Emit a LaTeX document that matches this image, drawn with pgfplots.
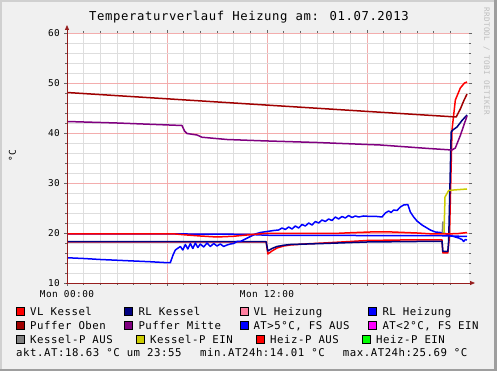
\documentclass[border=0pt]{standalone}
\usepackage{fontspec}
\setmainfont{DejaVu Sans Mono}[LetterSpace=5]
\usepackage{pgfplots}
\pgfplotsset{compat=1.18}
\usetikzlibrary{arrows.meta}
\definecolor{bgc}{RGB}{240,240,240}
\definecolor{bordlight}{RGB}{208,208,208}
\definecolor{borddark}{RGB}{158,158,158}
\definecolor{majgrid}{RGB}{243,173,173}
\definecolor{mingrid}{RGB}{222,222,222}
\definecolor{axiscol}{RGB}{150,30,30}
\definecolor{cVLK}{RGB}{255,0,0}
\definecolor{cRLK}{RGB}{0,0,128}
\definecolor{cVLH}{RGB}{255,128,160}
\definecolor{cRLH}{RGB}{0,0,255}
\definecolor{cPO}{RGB}{160,0,0}
\definecolor{cPM}{RGB}{128,0,128}
\definecolor{cAT}{RGB}{0,0,255}
\definecolor{cATn}{RGB}{255,0,255}
\definecolor{cKA}{RGB}{128,128,128}
\definecolor{cKE}{RGB}{204,204,0}
\definecolor{cHA}{RGB}{255,0,0}
\definecolor{cHE}{RGB}{0,255,0}
\definecolor{rrdtxt}{RGB}{190,190,190}
\begin{document}
\begin{tikzpicture}[x=1pt,y=1pt]
\useasboundingbox (0,0) rectangle (497,371);
\fill[bgc] (0,0) rectangle (497,371);
\fill[bordlight] (0,0) rectangle (2,371);
\fill[bordlight] (0,369) rectangle (497,371);
\fill[borddark] (494,0) rectangle (497,371);
\fill[borddark] (0,0) rectangle (497,2);
\begin{axis}[
  at={(67pt,88pt)}, anchor=south west,
  scale only axis, width=402pt, height=250pt,
  xmin=0, xmax=24.12, ymin=10, ymax=60,
  axis background/.style={fill=white},
  axis line style={draw=none},
  xtick={0,6,12,18}, minor xtick={1,2,3,4,5,7,8,9,10,11,13,14,15,16,17,19,20,21,22,23},
  xticklabels={Mon 00:00,,Mon 12:00,},
  ytick={10,20,30,40,50,60}, minor ytick={12,14,16,18,22,24,26,28,32,34,36,38,42,44,46,48,52,54,56,58},
  grid=both,
  major grid style={color=majgrid, line width=0.6pt},
  minor grid style={color=mingrid, line width=0.6pt},
  tick align=outside, major tick length=3pt, minor tick length=2pt,
  every tick/.style={color=gray!80!black, line width=0.5pt},
  tick label style={font=\fontsize{9.4}{11}\selectfont},
  /pgf/number format/assume math mode=true,
  yticklabel style={inner sep=0pt, xshift=-4pt},
  xticklabel style={inner sep=0pt, yshift=-4pt},
  clip=false,
  every axis plot/.append style={line width=1.5pt, line join=round},
]
% VL Kessel
\addplot[cVLK] coordinates {(0,18.2) (11.95,18.2) (12.05,15.8) (12.3,16.4) (12.6,17.0) (13.0,17.4) (13.4,17.6) (14.5,17.85) (15.4,18.0) (17,18.3) (18,18.5) (20,18.6) (22.5,18.6) (22.55,16.0) (22.85,16.0) (22.95,19.5) (23.1,40.6) (23.3,46.6) (23.6,49.0) (23.85,50.0) (24,50.2)};
% RL Kessel
\addplot[cRLK] coordinates {(0,18.25) (11.95,18.25) (12.05,16.4) (12.3,16.9) (12.6,17.3) (13.0,17.55) (13.4,17.7) (15.4,17.9) (18,18.2) (22.5,18.35) (22.55,16.3) (22.85,16.3) (22.9,18.5) (22.98,30) (23.05,40.2) (23.15,40.6) (23.4,41.2) (23.7,42.5) (24,43.6)};
% RL Heizung
\addplot[cRLH] coordinates {(0,19.8) (6.8,19.8) (7.2,19.8) (10,19.75) (11,19.7) (12,19.55) (22.5,19.45) (23,19.4) (24,19.3)};
% AT
\addplot[cAT] coordinates {(0,15.05) (1,14.9) (2,14.7) (3,14.55) (4,14.4) (5,14.25) (5.8,14.1) (6.2,14.05) (6.35,15.5) (6.5,16.6) (6.8,17.3) (6.95,16.6) (7.1,17.7) (7.25,16.8) (7.4,17.9) (7.55,16.9) (7.7,18.0) (7.85,17.1) (8.0,17.8) (8.2,17.2) (8.4,18.0) (8.6,17.3) (8.8,17.9) (9.0,17.4) (9.2,17.8) (9.4,17.3) (9.6,17.6) (9.8,17.8) (10.0,17.9) (10.2,18.3) (10.4,18.3) (10.7,18.8) (11.0,19.3) (11.3,19.8) (11.6,20.1) (12.0,20.3) (12.4,20.5) (12.7,20.6) (12.9,21.0) (13.1,20.7) (13.3,21.2) (13.5,20.8) (13.7,21.4) (13.9,21.0) (14.1,21.7) (14.3,21.4) (14.5,22.0) (14.7,21.6) (14.9,22.3) (15.1,22.0) (15.3,22.6) (15.5,22.3) (15.7,22.8) (15.9,22.5) (16.1,23.2) (16.3,22.8) (16.5,23.3) (16.7,23.0) (16.9,23.5) (17.1,23.1) (17.3,23.4) (17.5,23.2) (17.8,23.4) (18.2,23.3) (18.6,23.3) (18.9,23.2) (19.1,24.0) (19.3,24.4) (19.45,24.1) (19.6,24.6) (19.8,24.5) (20.0,25.2) (20.2,25.6) (20.45,25.69) (20.6,24.2) (20.8,23.2) (21.0,22.4) (21.3,21.6) (21.6,21.0) (21.8,20.6) (22.1,20.2) (22.4,20.1) (22.7,19.9) (23.0,19.5) (23.2,19.3) (23.5,19.0) (23.7,18.7) (23.8,18.3) (23.9,18.7) (24.0,18.6)};
% VL Heizung line (red)
\addplot[cHA] coordinates {(0,19.8) (6.5,19.8) (7.2,19.6) (8,19.4) (9,19.2) (10,19.35) (10.8,19.6) (12,19.95) (14,19.9) (16,19.9) (17,20.05) (18.2,20.2) (19.5,20.2) (21,20.0) (22,19.8) (22.8,19.8) (23.5,19.9) (24,20.1)};
% Puffer Oben
\addplot[cPO] coordinates {(0,48.1) (5,47.05) (10,46.0) (15,44.95) (20,43.9) (23.35,43.2) (23.6,44.8) (23.8,46.4) (24,47.8)};
% Puffer Mitte
\addplot[cPM] coordinates {(0,42.3) (3,42.0) (6.9,41.5) (7.05,40.4) (7.2,39.9) (7.8,39.6) (8.1,39.15) (9.6,38.7) (11.6,38.45) (15,38.1) (18.8,37.6) (21.7,36.9) (23.1,36.6) (23.3,37.0) (23.6,39.5) (24,43.4)};
% Kessel-P AUS
\addplot[cKA] coordinates {(22.52,20.0) (22.55,22.2) (22.58,22.2)};
% Kessel-P EIN
\addplot[cKE] coordinates {(22.62,20.0) (22.68,27.2) (22.9,28.5) (23.2,28.6) (24,28.8)};
\end{axis}
% axis lines
\draw[axiscol, line width=0.8pt, -{Triangle[length=5pt,width=4pt]}] (66,88) -- (475,88);
\draw[axiscol, line width=0.8pt, -{Triangle[length=5pt,width=4pt]}] (67,87) -- (67,346);
% title
\node[anchor=base, inner sep=0pt, font=\fontsize{12.25}{14}\selectfont] at (249,350.3) {Temperaturverlauf Heizung am: 01.07.2013};
% y label
\node[rotate=90, inner sep=0pt, font=\fontsize{9.4}{11}\selectfont] at (12.5,215) {°C};
% right text
\node[rotate=-90, anchor=base west, inner sep=0pt, text=rrdtxt, font=\fontsize{7.6}{9}\selectfont] at (484,364) {RRDTOOL / TOBI OETIKER};
% legend
\tikzset{lb/.style={draw=black, line width=0.5pt}, lt/.style={anchor=base west, inner sep=0pt, font=\fontsize{10.7}{12}\selectfont}}
\filldraw[lb, fill=cVLK] (16,55.3) rectangle (24,63.3);
\node[lt] at (30,55.7) {VL Kessel};
\filldraw[lb, fill=cRLK] (124.3,55.3) rectangle (132.3,63.3);
\node[lt] at (138.3,55.7) {RL Kessel};
\filldraw[lb, fill=cVLH] (240,55.3) rectangle (248,63.3);
\node[lt] at (253.3,55.7) {VL Heizung};
\filldraw[lb, fill=cRLH] (368.3,55.3) rectangle (376.3,63.3);
\node[lt] at (382.3,55.7) {RL Heizung};
\filldraw[lb, fill=cPO] (16,41.3) rectangle (24,49.3);
\node[lt] at (30,41.7) {Puffer Oben};
\filldraw[lb, fill=cPM] (124.3,41.3) rectangle (132.3,49.3);
\node[lt] at (138.3,41.7) {Puffer Mitte};
\filldraw[lb, fill=cAT] (240,41.3) rectangle (248,49.3);
\node[lt] at (253.3,41.7) {AT>5°C, FS AUS};
\filldraw[lb, fill=cATn] (368.3,41.3) rectangle (376.3,49.3);
\node[lt] at (382.3,41.7) {AT<2°C, FS EIN};
\filldraw[lb, fill=cKA] (16,27.3) rectangle (24,35.3);
\node[lt] at (30,27.7) {Kessel-P AUS};
\filldraw[lb, fill=cKE] (136.7,27.3) rectangle (144.7,35.3);
\node[lt] at (150,27.7) {Kessel-P EIN};
\filldraw[lb, fill=cHA] (256.7,27.3) rectangle (264.7,35.3);
\node[lt] at (270,27.7) {Heiz-P AUS};
\filldraw[lb, fill=cHE] (362.7,27.3) rectangle (370.7,35.3);
\node[lt] at (376,27.7) {Heiz-P EIN};
\node[lt] at (16,14.3) {akt.AT:18.63 °C um 23:55};
\node[lt] at (200,14.3) {min.AT24h:14.01 °C};
\node[lt] at (342.7,14.3) {max.AT24h:25.69 °C};
\end{tikzpicture}
\end{document}
